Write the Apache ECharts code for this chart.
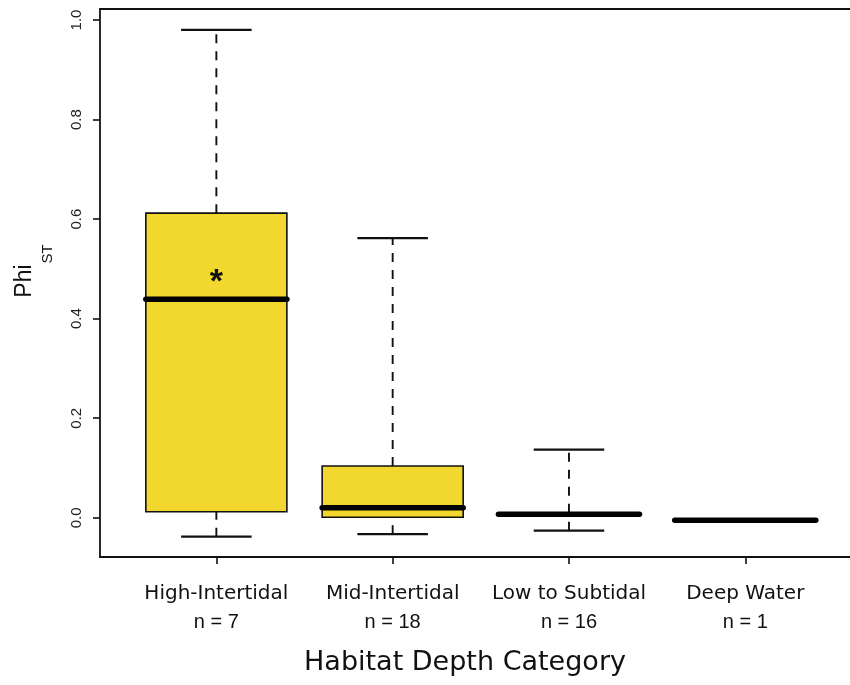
<!DOCTYPE html>
<html>
<head>
<meta charset="utf-8">
<script src="https://cdn.jsdelivr.net/npm/echarts@6/dist/echarts.min.js"></script>
<style>
  html, body { margin: 0; padding: 0; background: #fff; }
  #chart { width: 850px; height: 685px; }
</style>
</head>
<body>
<div id="chart"></div>
<script>
// ---- data ----
var categories = ['High-Intertidal', 'Mid-Intertidal', 'Low to Subtidal', 'Deep Water'];
var sampleSizes = ['n = 7', 'n = 18', 'n = 16', 'n = 1'];
var lowerWhisker = [-0.038, -0.033, -0.026, -0.005];
var q1Values     = [ 0.012,  0.001,  0.004, -0.005];
var medianValues = [ 0.439,  0.020,  0.007, -0.005];
var q3Values     = [ 0.612,  0.104,  0.010, -0.005];
var upperWhisker = [ 0.980,  0.562,  0.137, -0.005];
var significance = ['*', '', '', ''];
var significanceY = [0.485, null, null, null];
var yTicks = [0, 0.2, 0.4, 0.6, 0.8, 1.0];
var xTicks = [1, 2, 3, 4];

var rows = categories.map(function (c, i) {
  return [i + 1, lowerWhisker[i], q1Values[i], medianValues[i], q3Values[i], upperWhisker[i]];
});
var sigRows = [];
significance.forEach(function (s, i) {
  if (s) sigRows.push([i + 1, significanceY[i], s]);
});

var BOX_HALF = 0.4, CAP_HALF = 0.2;
var FILL = '#F2D82E', INK = '#111111';

function renderBox(params, api) {
  var x = api.value(0);
  var lo = api.value(1), q1 = api.value(2), med = api.value(3), q3 = api.value(4), hi = api.value(5);
  function seg(x1, y1, x2, y2) {
    var a = api.coord([x1, y1]), b = api.coord([x2, y2]);
    return { x1: a[0], y1: a[1], x2: b[0], y2: b[1] };
  }
  var tl = api.coord([x - BOX_HALF, q3]);
  var br = api.coord([x + BOX_HALF, q1]);
  var dashStyle = { stroke: INK, lineWidth: 1.9, lineDash: [9, 8] };
  var capStyle = { stroke: INK, lineWidth: 2.3 };
  return {
    type: 'group',
    children: [
      { type: 'line', shape: seg(x, q3, x, hi), style: dashStyle },
      { type: 'line', shape: seg(x, lo, x, q1), style: dashStyle },
      { type: 'line', shape: seg(x - CAP_HALF, hi, x + CAP_HALF, hi), style: capStyle },
      { type: 'line', shape: seg(x - CAP_HALF, lo, x + CAP_HALF, lo), style: capStyle },
      { type: 'rect', shape: { x: tl[0], y: tl[1], width: br[0] - tl[0], height: br[1] - tl[1] },
        style: { fill: FILL, stroke: INK, lineWidth: 1.6 } },
      { type: 'line', shape: seg(x - BOX_HALF, med, x + BOX_HALF, med),
        style: { stroke: '#000', lineWidth: 5.5, lineCap: 'round' } }
    ]
  };
}

function renderSig(params, api) {
  var p = api.coord([api.value(0), api.value(1)]);
  return {
    type: 'text',
    style: {
      text: significance[api.value(0) - 1],
      x: p[0], y: p[1] + 6,
      align: 'center', verticalAlign: 'middle',
      font: 'bold 34px "Liberation Sans"', fill: INK
    }
  };
}

var chart = echarts.init(document.getElementById('chart'), null, { renderer: 'canvas' });
chart.setOption({
  animation: false,
  backgroundColor: '#ffffff',
  grid: { left: 100, right: 0, top: 9, bottom: 128 },
  xAxis: [{
    type: 'value',
    min: 0.34,
    max: 4.594,
    position: 'bottom',
    splitLine: { show: false },
    axisLine: { show: true, onZero: false, lineStyle: { color: INK, width: 1.8 } },
    axisTick: { show: true, customValues: xTicks, length: 7, lineStyle: { color: INK, width: 1.6 } },
    axisLabel: {
      show: true,
      customValues: xTicks,
      margin: 22,
      formatter: function (v) {
        var i = Math.round(v) - 1;
        return '{a|' + categories[i] + '}\n{b|' + sampleSizes[i] + '}';
      },
      rich: {
        a: { fontFamily: 'DejaVu Sans', fontSize: 20, color: INK, lineHeight: 29 },
        b: { fontFamily: 'Liberation Sans', fontSize: 20, color: INK, lineHeight: 29 }
      }
    },
    name: 'Habitat Depth Category',
    nameLocation: 'middle',
    nameGap: 92,
    nameTextStyle: { fontFamily: 'DejaVu Sans', fontSize: 27, color: INK, padding: [0, 20, 0, 0] }
  }, {
    type: 'value',
    min: 0.34,
    max: 4.594,
    position: 'top',
    splitLine: { show: false },
    axisLine: { show: true, onZero: false, lineStyle: { color: INK, width: 1.8 } },
    axisTick: { show: false },
    axisLabel: { show: false }
  }],
  yAxis: {
    type: 'value',
    min: -0.0788,
    max: 1.0221,
    splitLine: { show: false },
    axisLine: { show: true, onZero: false, lineStyle: { color: INK, width: 1.8 } },
    axisTick: { show: true, customValues: yTicks, length: 7, lineStyle: { color: INK, width: 1.6 } },
    axisLabel: {
      show: true,
      customValues: yTicks,
      rotate: 90,
      margin: 16,
      fontFamily: 'Liberation Sans',
      fontSize: 15,
      color: '#222',
      formatter: function (v) { return v.toFixed(1); }
    },
    name: '{a|Phi}{b|ST}',
    nameLocation: 'middle',
    nameRotate: 90,
    nameGap: 62,
    nameTextStyle: {
      padding: [0, 0, 0, 24],
      rich: {
        a: { fontFamily: 'Liberation Sans', fontSize: 23, color: INK, lineHeight: 25, verticalAlign: 'top' },
        b: { fontFamily: 'Liberation Sans', fontSize: 15, color: INK, lineHeight: 16, verticalAlign: 'top', padding: [27, 0, 0, 1] }
      }
    }
  },
  series: [{
    type: 'custom',
    renderItem: renderBox,
    encode: { x: 0, y: [1, 2, 3, 4, 5] },
    data: rows,
    clip: false,
    z: 2
  }, {
    type: 'custom',
    renderItem: renderSig,
    encode: { x: 0, y: 1 },
    data: sigRows,
    z: 3
  }]
});
</script>
</body>
</html>
